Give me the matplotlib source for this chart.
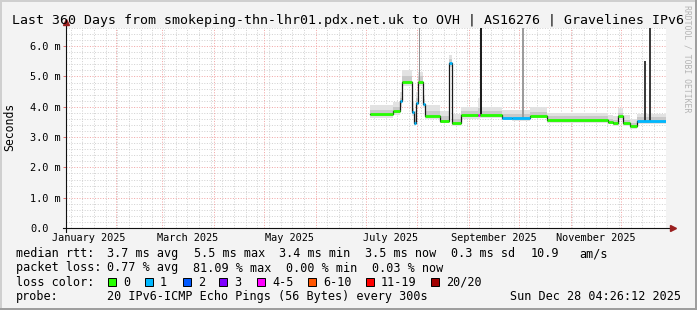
"""SmokePing style 360-day latency graph (rrdtool look) rebuilt with matplotlib."""
import datetime as dt

import matplotlib
matplotlib.use("Agg")
import matplotlib.pyplot as plt
from matplotlib.patches import Rectangle

# ---- data: days since 2025-01-01, latency in ms ----
seg_start = [183.6, 197.4, 201.6, 202.8, 208.8, 210.0, 211.2, 212.4, 215.4, 216.6,
             225.6, 231.0, 232.8, 238.2, 248.4, 249.6, 262.8, 268.8, 279.6, 289.8,
             326.4, 329.4, 332.4, 335.4, 339.6, 343.8]
seg_end = 361.2
median_ms = [3.75, 3.85, 4.18, 4.82, 3.83, 3.45, 4.14, 4.81, 4.10, 3.70,
             3.53, 5.45, 3.45, 3.72, 3.72, 3.72, 3.63, 3.62, 3.70, 3.55,
             3.49, 3.45, 3.68, 3.46, 3.35, 3.52]
loss_idx = [0, 0, 1, 0, 1, 1, 1, 0, 1, 0,
            0, 1, 0, 0, 4, 0, 1, 1, 0, 0,
            0, 0, 0, 0, 0, 1]
smoke_lo = [3.62, 3.72, 4.00, 4.68, 3.70, 3.38, 4.00, 4.68, 3.95, 3.60,
            3.45, 5.30, 3.35, 3.60, 3.60, 3.62, 3.55, 3.54, 3.62, 3.47,
            3.42, 3.38, 3.58, 3.38, 3.28, 3.44]
smoke_hi = [4.05, 4.15, 4.50, 5.20, 4.20, 3.85, 4.50, 5.15, 4.40, 4.05,
            3.85, 5.70, 3.75, 4.00, 4.30, 3.98, 3.90, 3.88, 3.98, 3.78,
            3.72, 3.70, 3.95, 3.72, 3.60, 3.75]
core_lo = [3.70, 3.80, 4.10, 4.76, 3.77, 3.40, 4.08, 4.75, 4.03, 3.65,
           3.48, 5.38, 3.40, 3.67, 3.67, 3.67, 3.58, 3.57, 3.65, 3.50,
           3.45, 3.41, 3.63, 3.42, 3.31, 3.47]
core_hi = [3.90, 4.00, 4.30, 5.00, 3.95, 3.60, 4.30, 5.00, 4.25, 3.85,
           3.68, 5.58, 3.60, 3.85, 3.95, 3.85, 3.76, 3.75, 3.83, 3.68,
           3.60, 3.58, 3.80, 3.58, 3.48, 3.65]

spike_day = [212.7, 249.4, 274.6, 347.9, 350.8]
spike_base = [4.81, 3.72, 3.62, 3.52, 3.52]
spike_top = [7.0, 7.0, 7.0, 5.5, 7.0]

y_ticks = [0, 1, 2, 3, 4, 5, 6]
y_labels = ["0.0", "1.0 m", "2.0 m", "3.0 m", "4.0 m", "5.0 m", "6.0 m"]
label_months = [1, 3, 5, 7, 9, 11]

loss_names = ["0", "1", "2", "3", "4-5", "6-10", "11-19", "20/20"]
loss_colors = ["#26ff00", "#00b8ff", "#0059ff", "#7e00ff",
               "#ff00ff", "#ff5500", "#ff0000", "#a10000"]

title = "Last 360 Days from smokeping-thn-lhr01.pdx.net.uk to OVH | AS16276 | Gravelines IPv6"
rtt_stats = ["3.7 ms avg", "5.5 ms max", "3.4 ms min", "3.5 ms now", "0.3 ms sd", "10.9", "am/s"]
loss_stats = ["0.77 % avg", "81.09 % max", "0.00 % min", "0.03 % now"]
probe_text = "20 IPv6-ICMP Echo Pings (56 Bytes) every 300s"
stamp_text = "Sun Dec 28 04:26:12 2025"

# ---- style ----
W, H = 697, 310
MONO = "DejaVu Sans Mono"
BACK, CANVAS = "#f3f3f3", "#ffffff"
MINOR, MAJOR = "#d2d2d2", "#f2a6a6"
SPIKE_COLORS = ["#8e8e8e", "#1e1e1e", "#9c9c9c", "#3c3c3c", "#3c3c3c"]

T0 = dt.datetime(2025, 1, 1)
now = dt.datetime(2025, 12, 28, 4, 26, 12)


def day(d):
    return (d - T0).total_seconds() / 86400.0


def fx(x):
    return x / W


def fy(y):
    return 1 - y / H


x_min, x_max = day(now - dt.timedelta(days=360)), day(now)

fig = plt.figure(figsize=(W / 100, H / 100), dpi=100, facecolor=BACK)
ax = fig.add_axes([fx(66), fy(228), 600 / W, 200 / H], facecolor=CANVAS)
ax.set_xlim(x_min, x_max)
ax.set_ylim(0, 6.6)
for s in ax.spines.values():
    s.set_visible(False)

# grid (dotted, rrdtool style)
dots = dict(lw=0.72, linestyle=(0, (1, 1.6)), zorder=1)
for k in range(1, 34):
    v = k * 0.2
    if abs(v - round(v)) > 1e-6:
        ax.axhline(v, color=MINOR, **dots)
for v in y_ticks[1:]:
    ax.axhline(v, color=MAJOR, **dots)
d = dt.datetime(2025, 1, 5)
while day(d) < x_max:
    if d.day != 1:
        ax.axvline(day(d), color=MINOR, **dots)
    d += dt.timedelta(days=7)
for m in range(2, 13):
    ax.axvline(day(dt.datetime(2025, m, 1)), color=MAJOR, **dots)

# smoke
edges = seg_start + [seg_end]
for i in range(len(seg_start)):
    xs = [edges[i], edges[i + 1]]
    ax.fill_between(xs, smoke_lo[i], smoke_hi[i], color="#e2e2e2", lw=0, zorder=2)
    ax.fill_between(xs, core_lo[i], core_hi[i], color="#c9c9c9", lw=0, zorder=3)
for i in range(len(spike_day)):
    ax.fill_between([spike_day[i], spike_day[i] + 1.1], spike_base[i], spike_top[i],
                    color=SPIKE_COLORS[i], lw=0, zorder=4)

# median line, coloured by loss
ax.step(edges, median_ms + [median_ms[-1]], where="post", color="#1a1a1a", lw=0.9, zorder=5)
ax.hlines(median_ms, edges[:-1], edges[1:], colors=[loss_colors[i] for i in loss_idx],
          lw=2.0, zorder=6)

# axes + arrows
ax.plot([0, 0], [-0.02, 1.03], transform=ax.transAxes, clip_on=False, color="#101010", lw=0.8, zorder=7)
ax.plot([-0.005, 1.01], [0, 0], transform=ax.transAxes, clip_on=False, color="#101010", lw=0.8, zorder=7)
ax.plot(0, 1.03, marker="^", ms=5, color="#9a1f1f", transform=ax.transAxes, clip_on=False, zorder=8)
ax.plot(1.012, 0, marker=">", ms=5, color="#9a1f1f", transform=ax.transAxes, clip_on=False, zorder=8)

# ticks
ax.set_yticks(y_ticks)
ax.set_yticklabels(y_labels, fontfamily=MONO, fontsize=7.4)
ax.tick_params(axis="y", length=2, width=0.7, color="#e07070", pad=24)
for lab in ax.get_yticklabels():
    lab.set_horizontalalignment("left")
ax.set_xticks([day(dt.datetime(2025, m, 16)) for m in label_months])
ax.set_xticklabels([dt.datetime(2025, m, 1).strftime("%B %Y") for m in label_months],
                   fontfamily=MONO, fontsize=7.4)
ax.tick_params(axis="x", length=0, pad=9.1)
for lab in ax.get_xticklabels():
    lab.set_verticalalignment("baseline")

# texts
fig.text(fx(348), fy(24), title, ha="center", va="baseline", fontfamily=MONO, fontsize=9.5)
fig.text(fx(10), fy(127), "Seconds", rotation=90, ha="center", va="center", fontfamily=MONO, fontsize=8.3)
fig.text(fx(687), fy(59), "RRDTOOL / TOBI OETIKER", rotation=270, ha="center", va="center",
         fontfamily=MONO, fontsize=5.9, color="#b4b4b4")

leg = dict(fontfamily=MONO, fontsize=8.5, va="baseline")
rows = [257.3, 271.5, 285.7, 299.9]
fig.text(fx(16), fy(rows[0]), "median rtt:", **leg)
for x, s in zip([107.3, 194, 279.3, 365, 451, 530.3, 579.3], rtt_stats):
    fig.text(fx(x), fy(rows[0]), s, **leg)
fig.text(fx(16), fy(rows[1]), "packet loss:", **leg)
for x, s in zip([107.3, 193.3, 286, 372.3], loss_stats):
    fig.text(fx(x), fy(rows[1]), s, **leg)
fig.text(fx(16), fy(rows[2]), "loss color:", **leg)
for bx, name, c in zip([108, 145, 183, 219, 257, 308, 366, 431], loss_names, loss_colors):
    fig.patches.append(Rectangle((fx(bx), fy(285.5)), 8 / W, 8 / H, transform=fig.transFigure,
                                 facecolor=c, edgecolor="black", lw=0.7))
    fig.text(fx(bx + 15), fy(rows[2]), name, **leg)
fig.text(fx(16), fy(rows[3]), "probe:", **leg)
fig.text(fx(107.3), fy(rows[3]), probe_text, **leg)
fig.text(fx(681), fy(rows[3]), stamp_text, ha="right", **leg)

# rrdtool frame shading
for (x, y, w, h, c) in [(0, 0, W, 2, "#cfcfcf"), (0, 0, 2, H, "#cfcfcf"),
                        (0, H - 2, W, 2, "#9e9e9e"), (W - 2, 0, 2, H, "#9e9e9e")]:
    fig.patches.append(Rectangle((fx(x), fy(y + h)), w / W, h / H, transform=fig.transFigure,
                                 facecolor=c, edgecolor="none"))

fig.savefig("out.png", dpi=100, facecolor=BACK)
